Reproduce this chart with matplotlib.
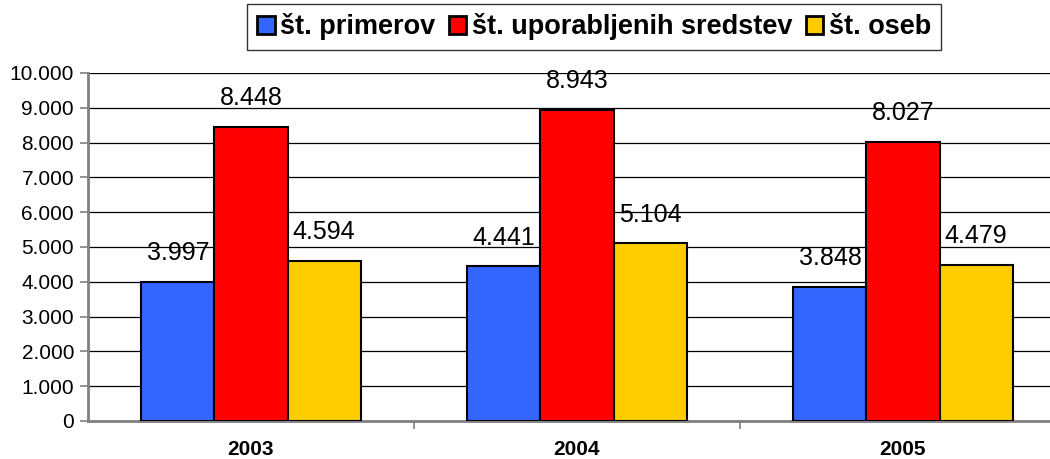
import matplotlib
matplotlib.use("Agg")
import matplotlib.pyplot as plt
from matplotlib.ticker import FuncFormatter, FixedLocator
import numpy as np

years = ["2003", "2004", "2005"]
series_names = ["št. primerov", "št. uporabljenih sredstev", "št. oseb"]
primerov = [3997, 4441, 3848]
sredstev = [8448, 8943, 8027]
oseb = [4594, 5104, 4479]
colors = ["#3366FF", "#FF0000", "#FFCC00"]

plt.rcParams['font.family'] = ['Liberation Sans', 'DejaVu Sans']

fig = plt.figure(figsize=(10.5, 4.59), dpi=100)
ax = fig.add_axes([88/1050, 38/459, 978/1050, 348/459])

x = np.arange(len(years))
w = 0.224
data = [primerov, sredstev, oseb]
for i, (vals, c, name) in enumerate(zip(data, colors, series_names)):
    ax.bar(x + (i - 1) * w, vals, w, color=c, edgecolor="black", linewidth=1.5,
           label=name, zorder=3)
    for xi, v in zip(x + (i - 1) * w, vals):
        ax.annotate(f"{v:,}".replace(",", "."), (xi, v), xytext=(0, 12),
                    textcoords="offset points", ha="center", va="bottom",
                    fontsize=18)

ax.set_xlim(-0.5, 2.5)
ax.set_ylim(0, 10000)
ax.set_yticks(np.arange(0, 10001, 1000))
ax.yaxis.set_major_formatter(FuncFormatter(lambda v, p: f"{int(v):,}".replace(",", ".")))
ax.yaxis.grid(True, color="black", linewidth=0.9, zorder=0)
ax.set_axisbelow(True)

ax.set_xticks(x)
ax.set_xticklabels(years, fontweight="bold", fontsize=15)
ax.tick_params(axis="x", length=0, pad=14)
ax.xaxis.set_minor_locator(FixedLocator([0.5, 1.5]))
ax.tick_params(axis="x", which="minor", length=6, color="#808080", width=1.2, direction="out")
ax.tick_params(axis="y", length=6, color="#808080", width=1.2, labelsize=15, pad=4)

for s in ["top", "right"]:
    ax.spines[s].set_visible(False)
for s in ["left", "bottom"]:
    ax.spines[s].set_color("#808080")
    ax.spines[s].set_linewidth(2)

leg = fig.legend(loc="center", bbox_to_anchor=(594/1050, 1 - 27/459), ncol=3,
                 frameon=True, fancybox=False, edgecolor="black",
                 prop={"weight": "bold", "size": 19.5},
                 handlelength=0.65, handleheight=0.65, handletextpad=0.2,
                 columnspacing=0.5, borderpad=0.35)
leg.get_frame().set_linewidth(1.0)
for h in leg.legend_handles:
    h.set_linewidth(2)

fig.savefig("out.png", dpi=100)
